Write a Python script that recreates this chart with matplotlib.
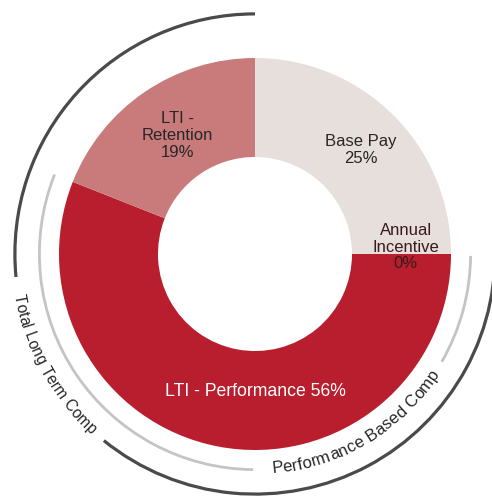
import numpy as np
import matplotlib
matplotlib.use("Agg")
import matplotlib.pyplot as plt
from matplotlib.patches import Arc
from matplotlib.font_manager import FontProperties

plt.rcParams['font.family'] = ['Liberation Sans', 'DejaVu Sans']

# pay mix (percent of total target comp)
labels = ['Base Pay\n25%', 'Annual\nIncentive\n0%', 'LTI - Performance 56%', 'LTI -\nRetention\n19%']
shares = [25, 0, 56, 19]
colors = ['#e6dfdb', '#b81e2d', '#b81e2d', '#c97b7c']
text_colors = ['#262626', '#3a1a1a', 'white', '#262626']
label_sizes = [12, 12, 12.7, 12]

# where each label sits, in pie units (outer radius = 1)
label_pos = [(0.54, 0.53), (0.77, 0.035), (0.0, -0.70), (-0.395, 0.605)]

# outer brackets: text, ring radius, colour, arc spans (deg), text centre angle, font size
bracket_text = ['Total Long Term Comp', 'Performance Based Comp']
bracket_r = [1.225, 1.10]
bracket_color = ['#4a4a4a', '#c4c4c4']
bracket_lw = [2.3, 2.0]
bracket_spans = [[(90, 185.5), (231, 365)], [(158.4, 269.5), (330, 359.5)]]
bracket_mid = [208.7, -59.2]
bracket_size = [11.2, 12.1]

fig = plt.figure(figsize=(4.92, 4.97), dpi=100)
ax = fig.add_axes([0, 0, 1, 1])

ax.pie(shares, colors=colors, startangle=90, counterclock=False,
       radius=1.0, wedgeprops=dict(width=0.505, linewidth=0))

for (x, y), lab, tc, fs in zip(label_pos, labels, text_colors, label_sizes):
    ax.text(x, y, lab, ha='center', va='center', fontsize=fs, color=tc,
            linespacing=1.15)

# pie units: 1.0 = 196 px, centre of the ring at pixel (255, 254)
ax.set_xlim(-255 / 196, (492 - 255) / 196)
ax.set_ylim(-(497 - 254) / 196, 254 / 196)
ax.set_aspect('auto')
ax.axis('off')

fig.canvas.draw()
renderer = fig.canvas.get_renderer()
px_per_unit = ax.transData.transform((1, 0))[0] - ax.transData.transform((0, 0))[0]


def curved_text(text, r, mid_deg, size, color='#262626'):
    # lay the characters along a circle, reading counter-clockwise, tops facing the centre
    prop = FontProperties(family='Liberation Sans', size=size)
    base = renderer.get_text_width_height_descent('xx', prop, ismath=False)[0]
    advs = []
    for ch in text:
        w = renderer.get_text_width_height_descent('x' + ch + 'x', prop, ismath=False)[0]
        advs.append(w - base)
    span = sum(advs) / (r * px_per_unit)
    theta = np.radians(mid_deg) - span / 2
    for ch, a in zip(text, advs):
        t = theta + (a / 2) / (r * px_per_unit)
        ax.text(r * np.cos(t), r * np.sin(t), ch, fontproperties=prop,
                color=color, ha='center', va='center',
                rotation=np.degrees(t) + 90, rotation_mode='anchor')
        theta += a / (r * px_per_unit)


for i in range(len(bracket_text)):
    rad = bracket_r[i]
    for t1, t2 in bracket_spans[i]:
        ax.add_patch(Arc((0, 0), 2 * rad, 2 * rad, theta1=t1, theta2=t2,
                         color=bracket_color[i], lw=bracket_lw[i]))
    curved_text(bracket_text[i], rad, bracket_mid[i], bracket_size[i])

fig.savefig('out.png', dpi=100, facecolor='white')
